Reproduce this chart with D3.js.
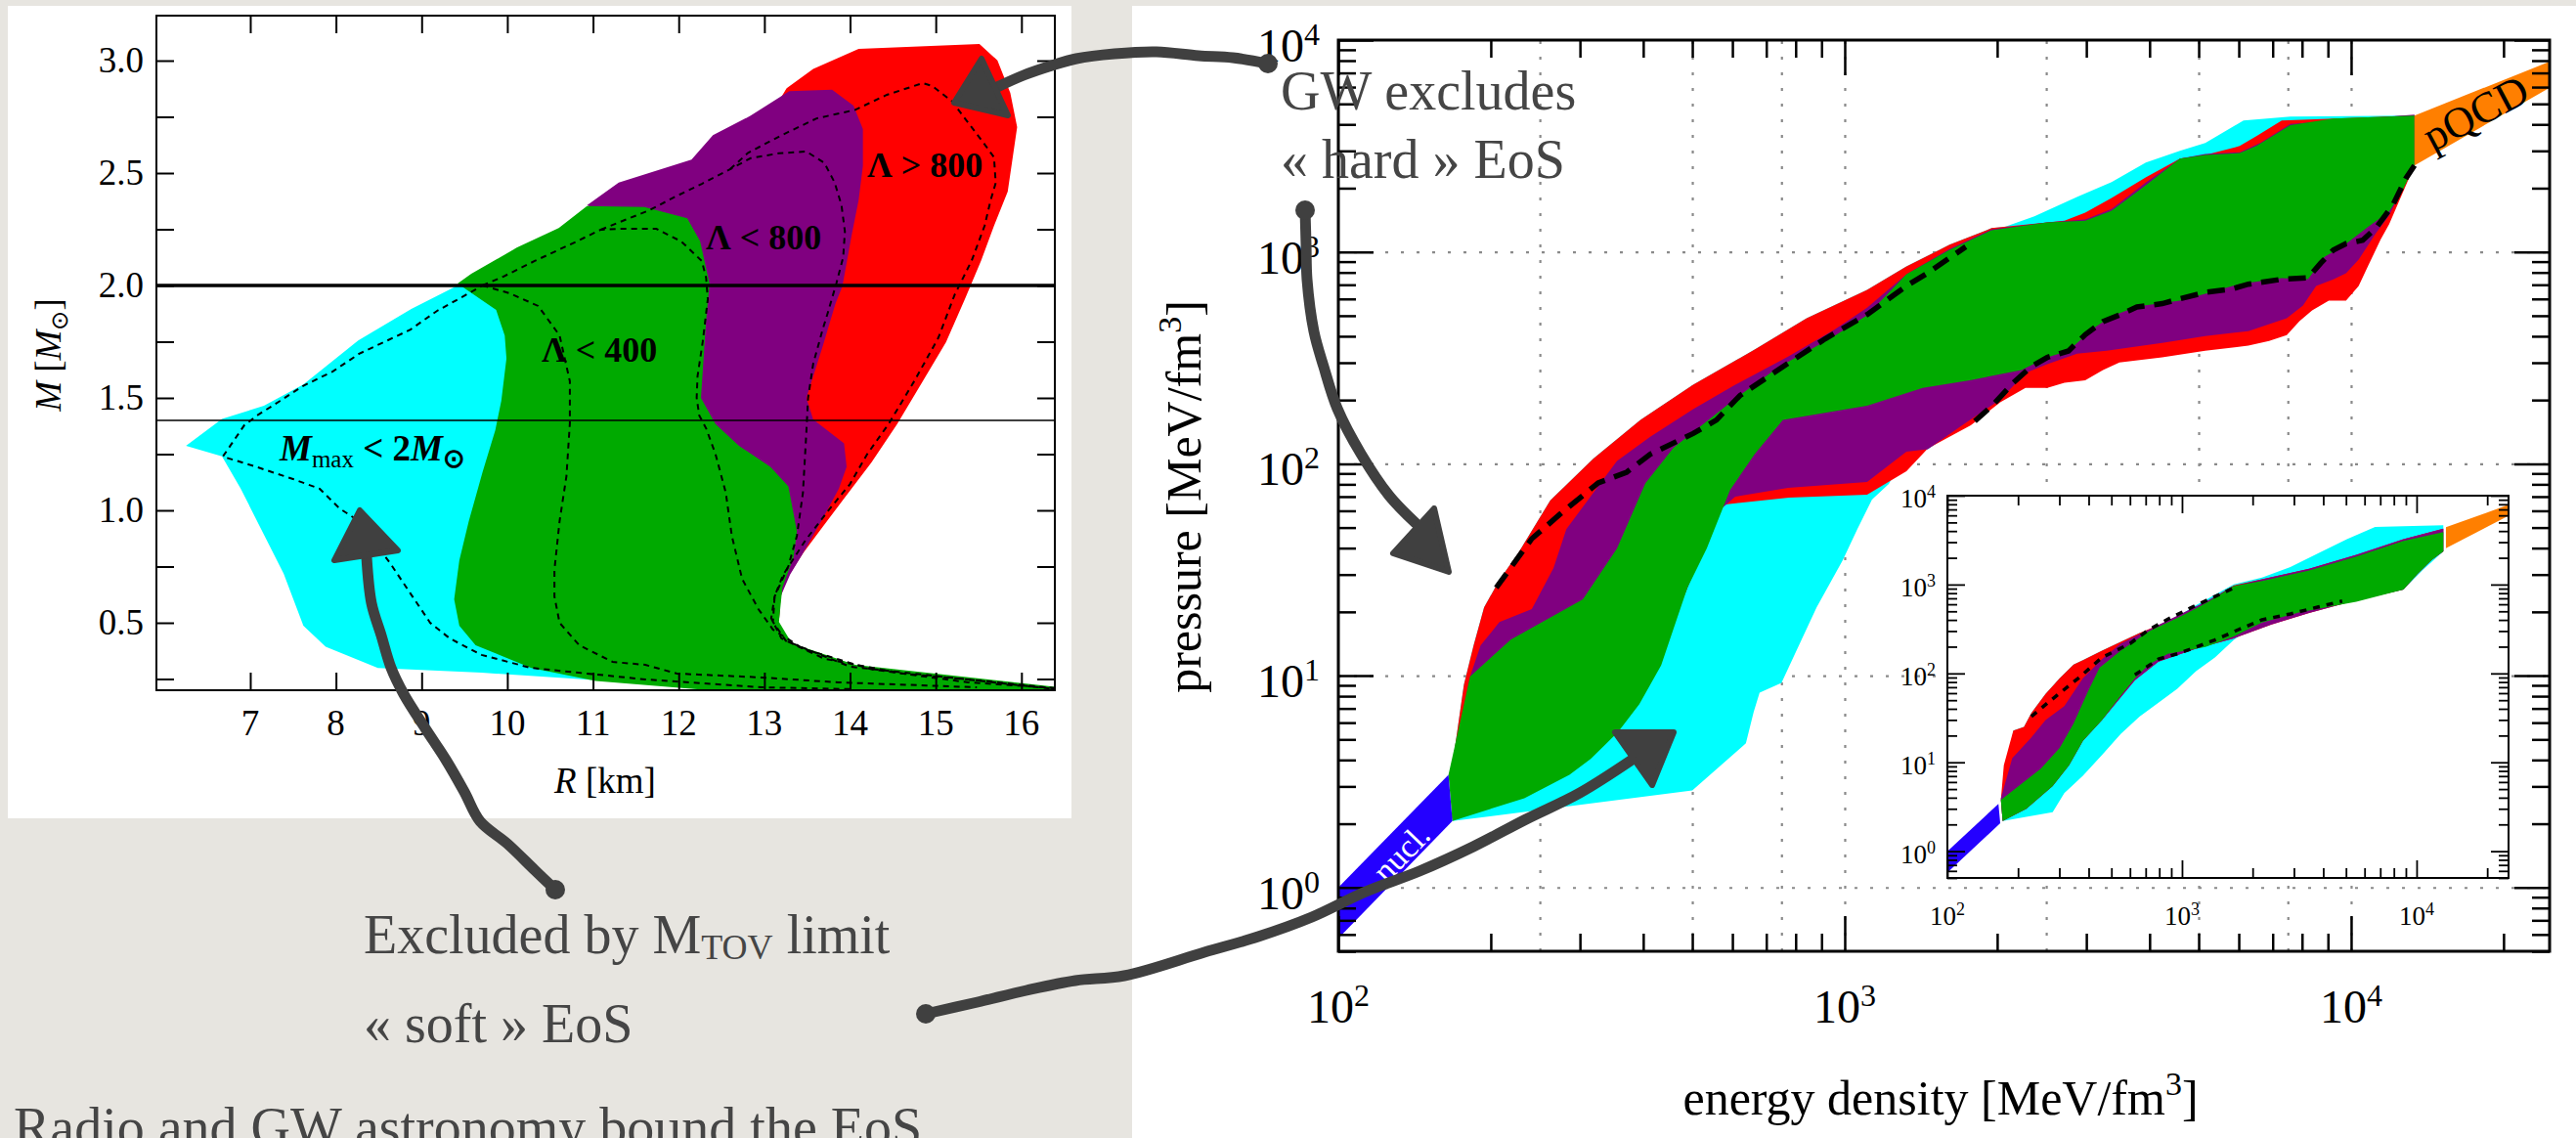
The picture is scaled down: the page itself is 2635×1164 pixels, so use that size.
<!DOCTYPE html>
<html>
<head>
<meta charset="utf-8">
<script src="https://cdn.jsdelivr.net/npm/d3@7"></script>
<style>
  body { margin: 0; background: #e7e5e0; }
  svg { display: block; }
  text { font-family: "Liberation Serif", "Times New Roman", serif; }
</style>
</head>
<body>
<svg id="chart" width="2635" height="1164"></svg>
<script>
// ---------- left panel: mass-radius regions, [R km, M Msun] ----------
var mrCyan = [[9.42,2.0],[8.88,1.896],[8.26,1.755],[7.62,1.56],[7.16,1.465],[6.67,1.407],[6.25,1.287],[6.67,1.24],[6.89,1.096],[7.12,0.922],[7.39,0.719],[7.62,0.487],[7.88,0.393],[8.49,0.299],[9.70,0.278],[11.23,0.24],[12.4,0.2],[11.0,0.5],[10.5,1.9]];
var mrRed = [[13.26,2.877],[13.57,2.963],[14.1,3.052],[15.51,3.074],[15.72,3.001],[15.87,2.857],[15.95,2.704],[15.84,2.417],[15.68,2.265],[15.53,2.111],[15.34,1.939],[15.12,1.748],[14.85,1.575],[14.55,1.384],[14.25,1.213],[13.94,1.058],[13.68,0.926],[13.45,0.809],[13.26,0.696],[13.19,0.617],[13.17,0.504],[12.5,1.5],[12.5,2.4]];
var mrPurple = [[10.93,2.357],[11.3,2.458],[12.15,2.56],[12.4,2.668],[12.84,2.755],[13.29,2.864],[13.79,2.871],[14.04,2.8],[14.15,2.696],[14.15,2.532],[14.1,2.379],[14.02,2.226],[13.91,1.996],[13.83,1.92],[13.68,1.728],[13.49,1.5],[13.57,1.404],[13.93,1.298],[13.96,1.193],[13.87,1.097],[13.68,0.963],[13.45,0.809],[13.3,0.714],[13.19,0.617],[13.17,0.504],[12.0,1.5],[11.6,2.25]];
var mrGreen = [[9.42,2.009],[9.58,2.052],[10.11,2.168],[10.6,2.255],[10.93,2.353],[11.6,2.349],[12.1,2.299],[12.25,2.197],[12.36,2.009],[12.32,1.843],[12.26,1.5],[12.43,1.384],[12.70,1.288],[13.07,1.193],[13.28,1.107],[13.38,0.905],[13.34,0.791],[13.21,0.657],[13.17,0.504],[13.32,0.409],[14.06,0.313],[16.39,0.215],[16.39,0.2],[12.36,0.2],[11.03,0.241],[10.28,0.299],[9.63,0.4],[9.44,0.487],[9.38,0.604],[9.44,0.777],[9.55,0.951],[9.71,1.168],[9.86,1.357],[9.93,1.487],[9.99,1.675],[9.97,1.777],[9.87,1.891]];

// dashed contours
var mrDashShared = [[14.0,0.205],[12.97,0.213],[11.61,0.248],[11.04,0.270],[10.27,0.300],[9.70,0.357],[9.33,0.430],[9.10,0.500],[8.87,0.630],[8.64,0.761],[8.27,0.952],[8.04,1.009],[7.81,1.096],[7.50,1.139],[7.05,1.196],[6.68,1.239],[6.93,1.378],[7.08,1.422],[7.35,1.487],[7.61,1.552],[7.96,1.617],[8.27,1.696],[8.56,1.748],[8.87,1.804],[9.18,1.887],[9.55,1.965],[9.71,2.0]];
var mrDash1 = [[9.71,2.0],[10.03,1.965],[10.36,1.909],[10.61,1.778],[10.73,1.574],[10.73,1.387],[10.69,1.152],[10.61,0.952],[10.55,0.735],[10.55,0.617],[10.61,0.50],[10.84,0.40],[11.23,0.326],[11.61,0.313],[11.98,0.274],[12.96,0.257],[13.86,0.235],[15.48,0.213]];
var mrDash2 = [[9.71,2.0],[9.95,2.039],[10.32,2.109],[10.81,2.196],[11.09,2.248],[11.3,2.252],[11.74,2.252],[12.03,2.196],[12.27,2.109],[12.32,2.035],[12.34,1.939],[12.28,1.748],[12.22,1.596],[12.21,1.50],[12.24,1.422],[12.32,1.365],[12.43,1.25],[12.55,1.078],[12.62,0.887],[12.74,0.696],[12.93,0.561],[13.1,0.47],[13.45,0.385],[14.25,0.293],[15.38,0.235],[16.39,0.21]];
var mrDash3 = [[11.09,2.248],[11.66,2.335],[11.95,2.393],[12.27,2.452],[12.6,2.517],[12.84,2.566],[13.17,2.588],[13.49,2.596],[13.70,2.545],[13.82,2.458],[13.90,2.357],[13.94,2.24],[13.92,2.126],[13.84,2.009],[13.74,1.878],[13.68,1.804],[13.57,1.652],[13.51,1.5],[13.49,1.346],[13.45,1.078],[13.38,0.887],[13.28,0.752],[13.12,0.617],[13.08,0.52],[13.2,0.43],[13.7,0.34],[14.6,0.275],[15.6,0.24],[16.39,0.208]];
var mrDash4 = [[12.6,2.517],[12.81,2.59],[13.19,2.666],[13.61,2.743],[14.06,2.781],[14.43,2.848],[14.85,2.9],[14.96,2.887],[15.19,2.819],[15.34,2.743],[15.57,2.628],[15.68,2.57],[15.70,2.456],[15.64,2.378],[15.57,2.265],[15.42,2.111],[15.22,1.958],[15.03,1.767],[14.75,1.575],[14.45,1.384],[14.2,1.25],[14.0,1.117],[13.75,1.001],[13.48,0.867],[13.22,0.714],[13.12,0.618],[13.1,0.504],[13.25,0.42],[14.0,0.305],[15.2,0.255],[16.39,0.205]];

var mrLines = [2.0, 1.4];
var rTicks = [7,8,9,10,11,12,13,14,15,16];
var mTicks = [0.25,0.5,0.75,1.0,1.25,1.5,1.75,2.0,2.25,2.5,2.75,3.0];
var mLabels = [0.5,1.0,1.5,2.0,2.5,3.0];

// ---------- right panel: EoS bands, [energy density, pressure] MeV/fm^3 ----------
var nuclUpper = [[100,1.0],[165,3.4]];
var nuclLower = [[100,0.575],[168,2.06]];
var pqcdUpper = [[13340,4406],[24660,7910]];
var pqcdLower = [[13340,2559],[24660,5960]];

var cyanUpper = [[167,3.44],[177,9.06],[185,13.9],[194,21.0],[208,28.3],[227,38.2],[262,67.1],[319,106],[395,161],[502,236],[664,346],[841,486],[1107,662],[1324,855],[1611,1081],[1950,1295],[2065,1309],[2369,1471],[2881,1820],[3365,2136],[3932,2642],[4592,3002],[5152,3269],[6131,4178],[7586,4357],[13340,4406]];
var cyanLower = [[168,2.06],[500,2.87],[638,4.79],[661,6.73],[679,8.32],[750,9.25],[798,12.7],[880,21.0],[991,35.1],[1059,49.2],[1132,67.8],[1222,80.4],[1324,114],[1459,117],[1706,152],[2028,201],[2275,268],[2512,295],[2877,331],[3289,342],[4236,372],[5152,401],[6266,423],[7464,486],[8035,558],[8531,691],[9226,743],[9772,793],[10350,920],[11160,1213],[11890,1487],[13340,2559]];
var redUpper = [[167,3.44],[177,9.06],[185,13.9],[194,21.0],[208,28.3],[227,38.2],[262,67.1],[319,106],[395,161],[502,236],[664,346],[841,486],[1107,662],[1324,855],[1611,1081],[1950,1295],[2512,1377],[2716,1406],[2985,1531],[3365,1799],[3936,2254],[4592,2754],[5152,2871],[6026,3162],[6501,3516],[7295,4176],[13340,4406]];
var redLower = [[168,2.11],[279,3.48],[398,7.97],[489,26.0],[544,54.8],[581,64.3],[776,69.2],[1107,71.5],[1324,92.3],[1459,118],[1637,137],[1774,152],[2028,195],[2275,228],[2512,228],[2716,241],[2985,248],[3236,277],[3487,301],[4236,318],[5152,342],[6266,361],[6887,380],[7464,405],[7907,471],[8375,530],[9036,589],[9772,589],[10350,691],[10790,855],[11430,1140],[11890,1352],[13340,2559]];
var purpleUpper = [[167,3.44],[182,9.9],[191,13.9],[208,17.9],[241,20.6],[266,32.2],[282,49.2],[355,103],[413,134],[502,181],[608,236],[773,321],[957,432],[1107,546],[1324,785],[1611,1035],[1950,1280],[2512,1377],[2985,1422],[3365,1596],[3936,2133],[4592,2754],[5152,2897],[6026,2958],[6637,3289],[7586,4018],[13340,4453]];
var purpleLower = [[168,2.11],[279,3.44],[398,7.89],[489,26.0],[569,61],[608,70],[773,77],[1107,82],[1324,114],[1459,117],[1706,152],[2028,201],[2275,268],[2512,295],[2877,331],[3289,342],[4236,372],[5152,401],[6266,423],[7464,486],[8035,558],[8531,691],[9226,743],[9772,793],[10350,920],[11160,1213],[11890,1487],[13340,2559]];
var greenUpper = [[165,3.4],[182,9.9],[219,14.8],[304,22.9],[355,39.8],[404,81],[459,119],[608,203],[740,286],[935,389],[1107,502],[1324,785],[1611,1023],[1950,1267],[2512,1377],[2985,1406],[3365,1566],[3936,2070],[4592,2754],[5152,2871],[6026,2931],[6501,3162],[7586,3963],[9226,4266],[13340,4406]];
var greenLower = [[168,2.06],[233,2.64],[286,3.40],[315,4.04],[357,5.43],[393,7.33],[434,11.2],[489,26.0],[534,39.8],[594,75.4],[664,111],[755,161],[1107,188],[1426,228],[1766,248],[2234,277],[2512,318],[2767,342],[3105,437],[3365,497],[3776,552],[4592,589],[5152,634],[6026,706],[7295,752],[8222,744],[8872,951],[9611,1059],[10790,1309],[11890,1552],[12590,1919],[13340,2559]];
var dashHard = [[205,26.0],[241,44.3],[274,57.8],[326,81.3],[371,91.3],[413,111],[502,139],[558,161],[621,210],[773,298],[915,389],[1108,507],[1323,690],[1459,796],[1734,1058]];
var dashSoft = [[1807,159],[1950,187],[2148,240],[2328,286],[2512,318],[2767,341],[2985,407],[3236,469],[3487,504],[3776,550],[4236,570],[4592,601],[5152,644],[5794,667],[6266,704],[7295,743],[8222,755],[8710,885],[9226,1021],[9772,1094],[10540,1135],[11220,1306],[12100,1671],[12820,2218],[13340,2559]];

// inset (no GW bound)
var insetCyanUpper = [[169,3.76],[191,22.8],[212,25.0],[228,35.8],[262,58.7],[301,88.1],[345,126],[378,141],[456,181],[548,227],[659,284],[871,373],[1148,585],[1663,1005],[2193,1202],[2897,1578],[3819,2259],[5047,3243],[6653,4446],[8790,4525],[13000,4650]];
var insetCyanLower = [[172,2.19],[281,2.74],[315,4.51],[378,7.06],[456,12.1],[548,20.8],[659,32.7],[794,46.9],[955,67.3],[1148,106],[1382,151],[1663,238],[2000,340],[2642,447],[3483,535],[5534,670],[8790,877],[10570,1442],[13000,2365]];
var insetRedUpper = [[169,3.76],[174,9.27],[191,22.8],[212,25.0],[228,35.8],[262,58.7],[301,88.1],[345,126],[378,141],[456,181],[548,227],[659,284],[955,427],[1259,629],[1663,977],[2193,1150],[3483,1507],[5534,2161],[8790,3243],[13000,4250]];
var insetPurpleUpper = [[169,3.94],[189,11.1],[228,19.05],[262,29.9],[315,42.9],[378,88.1],[456,145],[548,217],[723,311],[955,447],[1259,640],[1663,960],[2193,1150],[3483,1507],[5534,2161],[8790,3243],[13000,4250]];
var insetPurpleLower = [[172,2.19],[217,3.00],[281,5.40],[330,9.27],[378,17.4],[456,29.9],[548,54],[630,84],[794,136],[1148,190],[1663,248],[2410,356],[3483,480],[5047,623],[8790,877],[10090,1315],[11590,1888],[13000,2365]];
var insetGreenUpper = [[169,3.76],[250,8.47],[301,14.5],[345,27.3],[396,61.5],[445,116],[548,181],[723,298],[1000,447],[1259,611],[1663,960],[2193,1099],[3483,1442],[5534,2065],[8790,3100],[13000,3881]];
var insetGreenLower = [[172,2.19],[217,3.00],[281,5.40],[330,9.27],[378,17.4],[456,29.9],[548,56.2],[630,88.1],[723,126],[871,166],[1259,198],[1663,260],[2193,373],[3177,489],[4603,585],[5534,640],[8790,877],[10090,1315],[11590,1888],[13000,2365]];
var insetDashHard = [[228,32.7],[274,49.1],[361,88.1],[456,151],[601,217],[723,311],[871,408],[1148,585],[1663,918]];
var insetDashSoft = [[630,96.4],[794,145],[955,166],[1148,198],[1382,238],[1741,311],[2193,401],[2897,467],[3819,560],[4820,652]];

var eGrid = [250,500,750,1000,2500,5000,7500,10000];
var pGrid = [1,10,100,1000];
var eLabels = [2,3,4];
var pLabels = [0,1,2,3,4];

var colCyan = "#00ffff", colRed = "#ff0000", colPurple = "#800080", colGreen = "#00aa00";
var colNucl = "#2400ff", colPqcd = "#ff7f00", ink = "#404040";

var svg = d3.select("#chart");

// paper panels
svg.append("rect").attr("x", 8).attr("y", 6).attr("width", 1088).attr("height", 831).attr("fill", "#fff");
svg.append("rect").attr("x", 1158).attr("y", 6).attr("width", 1477).attr("height", 1158).attr("fill", "#fff");

function band(upper, lower) {
  return upper.concat(lower.slice().reverse());
}

function inwardTicks(g, xs, ys, xVals, yVals, len, width) {
  var xr = xs.range(), yr = ys.range();
  var axes = [
    [d3.axisBottom(xs).tickValues(xVals), "translate(0," + yr[0] + ")"],
    [d3.axisTop(xs).tickValues(xVals), "translate(0," + yr[1] + ")"],
    [d3.axisLeft(ys).tickValues(yVals), "translate(" + xr[0] + ",0)"],
    [d3.axisRight(ys).tickValues(yVals), "translate(" + xr[1] + ",0)"]
  ];
  axes.forEach(function(a) {
    var ax = g.append("g").attr("transform", a[1])
      .call(a[0].tickSize(-len).tickSizeOuter(0).tickFormat(""));
    ax.select(".domain").remove();
    ax.selectAll("line").attr("stroke", "#000").attr("stroke-width", width);
  });
}

// ================= left panel =================
var rScale = d3.scaleLinear().domain([5.905, 16.39]).range([160, 1079]);
var mScale = d3.scaleLinear().domain([0.2, 3.2]).range([706, 16]);
var mrLine = d3.line().x(function(d) { return rScale(d[0]); }).y(function(d) { return mScale(d[1]); });

svg.append("clipPath").attr("id", "clipMR").append("rect")
  .attr("x", 160).attr("y", 16).attr("width", 919).attr("height", 690);

var mr = svg.append("g").attr("clip-path", "url(#clipMR)");
[[mrCyan, colCyan], [mrRed, colRed], [mrPurple, colPurple], [mrGreen, colGreen]].forEach(function(r) {
  mr.append("path").attr("d", mrLine(r[0]) + "Z").attr("fill", r[1]);
});
[mrDashShared, mrDash1, mrDash2, mrDash3, mrDash4].forEach(function(c) {
  mr.append("path").attr("d", mrLine(c)).attr("fill", "none")
    .attr("stroke", "#000").attr("stroke-width", 2).attr("stroke-dasharray", "6,5");
});
mr.selectAll(".mline").data(mrLines).enter().append("line")
  .attr("x1", 160).attr("x2", 1079)
  .attr("y1", function(d) { return mScale(d); }).attr("y2", function(d) { return mScale(d); })
  .attr("stroke", "#000").attr("stroke-width", function(d, i) { return i == 0 ? 3.5 : 1.5; });

var mrAx = svg.append("g");
svg.append("rect").attr("x", 160).attr("y", 16).attr("width", 919).attr("height", 690)
  .attr("fill", "none").attr("stroke", "#000").attr("stroke-width", 2);
inwardTicks(mrAx, rScale, mScale, rTicks, mTicks, 18, 2);

mrAx.selectAll(".rlab").data(rTicks).enter().append("text")
  .attr("x", function(d) { return rScale(d); }).attr("y", 752)
  .attr("text-anchor", "middle").attr("font-size", 37).text(function(d) { return d; });
mrAx.selectAll(".mlab").data(mLabels).enter().append("text")
  .attr("x", 147).attr("y", function(d) { return mScale(d) + 12; })
  .attr("text-anchor", "end").attr("font-size", 37).text(function(d) { return d3.format(".1f")(d); });

var rTitle = mrAx.append("text").attr("x", 619).attr("y", 811).attr("text-anchor", "middle").attr("font-size", 37);
rTitle.append("tspan").attr("font-style", "italic").text("R");
rTitle.append("tspan").text(" [km]");

var mTitle = mrAx.append("text").attr("transform", "translate(62,363) rotate(-90)")
  .attr("text-anchor", "middle").attr("font-size", 37);
mTitle.append("tspan").attr("font-style", "italic").text("M");
mTitle.append("tspan").text(" [");
mTitle.append("tspan").attr("font-style", "italic").text("M");
mTitle.append("tspan").attr("font-size", 24).attr("dy", 7).text("⊙");
mTitle.append("tspan").attr("dy", -7).text("]");

function lambdaLabel(x, y, txt) {
  mrAx.append("text").attr("x", x).attr("y", y).attr("font-size", 36)
    .attr("font-weight", "bold").text(txt);
}
lambdaLabel(887, 181, "Λ > 800");
lambdaLabel(722, 255, "Λ < 800");
lambdaLabel(554, 370, "Λ < 400");
var mmax = mrAx.append("text").attr("x", 286).attr("y", 471).attr("font-size", 37).attr("font-weight", "bold");
mmax.append("tspan").attr("font-style", "italic").text("M");
mmax.append("tspan").attr("font-size", 25).attr("font-weight", "normal").attr("dy", 7).text("max");
mmax.append("tspan").attr("dy", -7).text(" < 2");
mmax.append("tspan").attr("font-style", "italic").text("M");
mmax.append("tspan").attr("font-size", 27).attr("dy", 7).text("⊙");

// ================= right panel =================
var eScale = d3.scaleLog().domain([100, 24660]).range([1369, 2608]);
var pScale = d3.scaleLog().domain([0.5, 1e4]).range([973, 41]);
var eosLine = d3.line().x(function(d) { return eScale(d[0]); }).y(function(d) { return pScale(d[1]); });

var grid = svg.append("g");
grid.append("g").attr("transform", "translate(0,973)")
  .call(d3.axisBottom(eScale).tickValues(eGrid).tickSize(-932).tickFormat("").tickSizeOuter(0));
grid.append("g").attr("transform", "translate(1369,0)")
  .call(d3.axisLeft(pScale).tickValues(pGrid).tickSize(-1239).tickFormat("").tickSizeOuter(0));
grid.selectAll(".domain").remove();
grid.selectAll("line").attr("stroke", "#8a8a8a").attr("stroke-width", 2.2).attr("stroke-dasharray", "3,13");

svg.append("clipPath").attr("id", "clipEos").append("rect")
  .attr("x", 1369).attr("y", 41).attr("width", 1239).attr("height", 932);
var eos = svg.append("g").attr("clip-path", "url(#clipEos)");
[[cyanUpper, cyanLower, colCyan], [redUpper, redLower, colRed], [purpleUpper, purpleLower, colPurple],
 [greenUpper, greenLower, colGreen], [nuclUpper, nuclLower, colNucl], [pqcdUpper, pqcdLower, colPqcd]].forEach(function(b) {
  eos.append("path").attr("d", eosLine(band(b[0], b[1])) + "Z").attr("fill", b[2]);
});
[dashHard, dashSoft].forEach(function(c) {
  eos.append("path").attr("d", eosLine(c)).attr("fill", "none").attr("stroke", "#000")
    .attr("stroke-width", 5.5).attr("stroke-dasharray", "18,10");
});

eos.append("text").attr("transform", "translate(1433,872) rotate(-46)")
  .attr("text-anchor", "middle").attr("dy", "0.35em").attr("font-size", 34)
  .attr("fill", "#fff").text("nucl.");
eos.append("text").attr("transform", "translate(2532,115) rotate(-28)")
  .attr("text-anchor", "middle").attr("dy", "0.35em").attr("font-size", 44)
  .attr("fill", "#000").text("pQCD");

var eAll = eScale.ticks();
var pAll = pScale.ticks();
function isDecade(v) { return Math.abs(Math.log10(v) - Math.round(Math.log10(v))) < 1e-9; }

var eosAx = svg.append("g");
eosAx.append("rect").attr("x", 1369).attr("y", 41).attr("width", 1239).attr("height", 932)
  .attr("fill", "none").attr("stroke", "#000").attr("stroke-width", 3);
inwardTicks(eosAx, eScale, pScale, eAll.filter(function(v) { return !isDecade(v); }), pAll.filter(function(v) { return !isDecade(v); }), 18, 2.5);
inwardTicks(eosAx, eScale, pScale, eAll.filter(isDecade), pAll.filter(isDecade), 36, 2.5);

function powLabel(g, x, y, k, anchor, size, supSize, rise) {
  var t = g.append("text").attr("x", x).attr("y", y).attr("text-anchor", anchor).attr("font-size", size);
  t.append("tspan").text("10");
  t.append("tspan").attr("font-size", supSize).attr("dy", -rise).text(k);
}
eLabels.forEach(function(k) { powLabel(eosAx, eScale(Math.pow(10, k)), 1046, k, "middle", 48, 32, 17); });
pLabels.forEach(function(k) { powLabel(eosAx, 1350, pScale(Math.pow(10, k)) + 22, k, "end", 48, 32, 17); });

var eTitle = eosAx.append("text").attr("x", 1985).attr("y", 1140).attr("text-anchor", "middle").attr("font-size", 50);
eTitle.append("tspan").text("energy density [MeV/fm");
eTitle.append("tspan").attr("font-size", 34).attr("dy", -20).text("3");
eTitle.append("tspan").attr("dy", 20).text("]");
var pTitle = eosAx.append("text").attr("transform", "translate(1228,508) rotate(-90)").attr("text-anchor", "middle").attr("font-size", 50);
pTitle.append("tspan").text("pressure [MeV/fm");
pTitle.append("tspan").attr("font-size", 34).attr("dy", -20).text("3");
pTitle.append("tspan").attr("dy", 20).text("]");

// ---------- inset ----------
var eIn = d3.scaleLog().domain([100, 24660]).range([1992, 2566]);
var pIn = d3.scaleLog().domain([0.5, 1e4]).range([898, 507]);
var inLine = d3.line().x(function(d) { return eIn(d[0]); }).y(function(d) { return pIn(d[1]); });

svg.append("rect").attr("x", 1992).attr("y", 507).attr("width", 574).attr("height", 391).attr("fill", "#fff");
svg.append("clipPath").attr("id", "clipIn").append("rect")
  .attr("x", 1992).attr("y", 507).attr("width", 574).attr("height", 391);
var ins = svg.append("g").attr("clip-path", "url(#clipIn)");
[[insetCyanUpper, insetCyanLower, colCyan], [insetRedUpper, insetPurpleLower, colRed],
 [insetPurpleUpper, insetPurpleLower, colPurple], [insetGreenUpper, insetGreenLower, colGreen],
 [nuclUpper, nuclLower, colNucl], [pqcdUpper, pqcdLower, colPqcd]].forEach(function(b) {
  ins.append("path").attr("d", inLine(band(b[0], b[1])) + "Z").attr("fill", b[2]);
});
[insetDashHard, insetDashSoft].forEach(function(c) {
  ins.append("path").attr("d", inLine(c)).attr("fill", "none").attr("stroke", "#000")
    .attr("stroke-width", 3.5).attr("stroke-dasharray", "7,7");
});

var inAx = svg.append("g");
inAx.append("rect").attr("x", 1992).attr("y", 507).attr("width", 574).attr("height", 391)
  .attr("fill", "none").attr("stroke", "#000").attr("stroke-width", 2);
inwardTicks(inAx, eIn, pIn, eAll.filter(function(v) { return !isDecade(v); }), pAll.filter(function(v) { return !isDecade(v); }), 10, 1.8);
inwardTicks(inAx, eIn, pIn, eAll.filter(isDecade), pAll.filter(isDecade), 18, 1.8);
eLabels.forEach(function(k) { powLabel(inAx, eIn(Math.pow(10, k)), 946, k, "middle", 27, 18, 10); });
pLabels.forEach(function(k) { powLabel(inAx, 1980, pIn(Math.pow(10, k)) + 12, k, "end", 27, 18, 10); });

// ================= annotations =================
var note = svg.append("g").attr("fill", "#454545").attr("font-size", 56);
note.append("text").attr("x", 1310).attr("y", 112).text("GW excludes");
note.append("text").attr("x", 1310).attr("y", 182).text("« hard » EoS");
var tov = note.append("text").attr("x", 372).attr("y", 975);
tov.append("tspan").text("Excluded by M");
tov.append("tspan").attr("font-size", 36).attr("dy", 6).text("TOV");
tov.append("tspan").attr("dy", -6).text(" limit");
note.append("text").attr("x", 372).attr("y", 1066).text("« soft » EoS");
note.append("text").attr("x", 14).attr("y", 1172).text("Radio and GW astronomy bound the EoS");

var arrows = [
  { shaft: [[1297,65],[1261,59],[1226,57],[1183,53],[1140,55],[1101,60],[1076,67],[1047,77],[1018,90]], head: [[976,105],[1004,60],[1031,118]] },
  { shaft: [[1335,215],[1336,250],[1337,286],[1344,339],[1354,375],[1368,418],[1392,464],[1421,507],[1448,535]], head: [[1467,520],[1425,566],[1482,585]] },
  { shaft: [[568,910],[547,890],[519,863],[491,840],[475,810],[456,777],[435,745],[413,710],[400,683],[390,650],[380,617],[375,570]], head: [[368,522],[342,573],[407,563]] },
  { shaft: [[947,1037],[1000,1025],[1050,1013],[1100,1003],[1150,998],[1232,974],[1287,958],[1342,938],[1397,912],[1452,891],[1507,866],[1561,838],[1616,811],[1668,778]], head: [[1652,749],[1712,749],[1690,803]] }
];
var arrowLine = d3.line().curve(d3.curveCatmullRom);
var arr = svg.append("g");
arrows.forEach(function(a) {
  arr.append("path").attr("d", arrowLine(a.shaft)).attr("fill", "none").attr("stroke", ink)
    .attr("stroke-width", 11).attr("stroke-linecap", "round").attr("stroke-linejoin", "round");
  arr.append("path").attr("d", d3.line()(a.head) + "Z").attr("fill", ink).attr("stroke", ink)
    .attr("stroke-width", 6).attr("stroke-linejoin", "round");
  arr.append("circle").attr("cx", a.shaft[0][0]).attr("cy", a.shaft[0][1]).attr("r", 10).attr("fill", ink);
});
</script>
</body>
</html>
